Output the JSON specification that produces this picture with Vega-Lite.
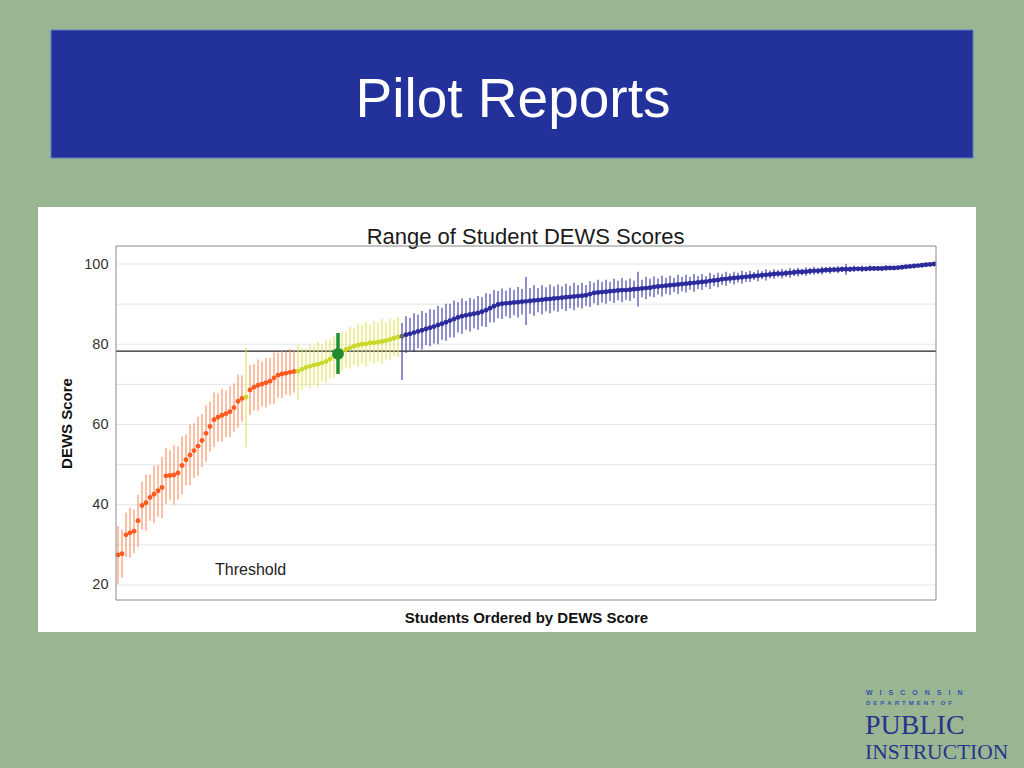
{
"$schema": "https://vega.github.io/schema/vega-lite/v6.json",
"width": 820,
"height": 354,
"autosize": "none",
"padding": {"left": 116, "top": 246, "right": 88, "bottom": 168},
"background": "#9ab591",
"config": {"view": {"stroke": null}, "font": "Liberation Sans", "axis": {"labelFont": "Liberation Sans", "titleFont": "Liberation Sans", "grid": false, "ticks": false, "domain": false}},
"data": {"values": [
{"i":1,"s":27.5,"lo":20.3,"hi":34.7,"g":"L"},
{"i":2,"s":27.8,"lo":21.8,"hi":33.8,"g":"L"},
{"i":3,"s":32.5,"lo":27.0,"hi":38.0,"g":"L"},
{"i":4,"s":33.0,"lo":26.8,"hi":39.2,"g":"L"},
{"i":5,"s":33.4,"lo":28.0,"hi":38.8,"g":"L"},
{"i":6,"s":36.0,"lo":29.5,"hi":42.5,"g":"L"},
{"i":7,"s":39.8,"lo":33.8,"hi":45.8,"g":"L"},
{"i":8,"s":40.5,"lo":33.5,"hi":47.5,"g":"L"},
{"i":9,"s":41.8,"lo":36.0,"hi":47.6,"g":"L"},
{"i":10,"s":42.6,"lo":35.4,"hi":49.8,"g":"L"},
{"i":11,"s":43.5,"lo":37.1,"hi":49.9,"g":"L"},
{"i":12,"s":44.3,"lo":36.7,"hi":51.9,"g":"L"},
{"i":13,"s":47.2,"lo":40.2,"hi":54.2,"g":"L"},
{"i":14,"s":47.3,"lo":41.1,"hi":53.5,"g":"L"},
{"i":15,"s":47.4,"lo":40.0,"hi":54.8,"g":"L"},
{"i":16,"s":47.9,"lo":41.3,"hi":54.5,"g":"L"},
{"i":17,"s":49.8,"lo":42.6,"hi":57.0,"g":"L"},
{"i":18,"s":51.2,"lo":44.8,"hi":57.6,"g":"L"},
{"i":19,"s":52.4,"lo":44.8,"hi":60.0,"g":"L"},
{"i":20,"s":53.5,"lo":46.7,"hi":60.3,"g":"L"},
{"i":21,"s":54.6,"lo":47.2,"hi":62.0,"g":"L"},
{"i":22,"s":56.0,"lo":49.4,"hi":62.6,"g":"L"},
{"i":23,"s":57.8,"lo":50.8,"hi":64.8,"g":"L"},
{"i":24,"s":59.5,"lo":53.3,"hi":65.7,"g":"L"},
{"i":25,"s":61.2,"lo":54.4,"hi":68.0,"g":"L"},
{"i":26,"s":61.8,"lo":55.8,"hi":67.8,"g":"L"},
{"i":27,"s":62.3,"lo":55.7,"hi":68.9,"g":"L"},
{"i":28,"s":62.7,"lo":56.9,"hi":68.5,"g":"L"},
{"i":29,"s":63.2,"lo":56.8,"hi":69.6,"g":"L"},
{"i":30,"s":64.2,"lo":58.2,"hi":70.2,"g":"L"},
{"i":31,"s":65.8,"lo":59.2,"hi":72.4,"g":"L"},
{"i":32,"s":66.5,"lo":60.7,"hi":72.3,"g":"L"},
{"i":33,"s":66.8,"lo":54.3,"hi":79.2,"g":"M"},
{"i":34,"s":68.6,"lo":62.4,"hi":74.8,"g":"L"},
{"i":35,"s":69.3,"lo":63.5,"hi":75.1,"g":"L"},
{"i":36,"s":69.8,"lo":63.4,"hi":76.2,"g":"L"},
{"i":37,"s":70.1,"lo":64.5,"hi":75.7,"g":"L"},
{"i":38,"s":70.4,"lo":64.2,"hi":76.6,"g":"L"},
{"i":39,"s":70.8,"lo":65.0,"hi":76.6,"g":"L"},
{"i":40,"s":71.6,"lo":65.2,"hi":78.0,"g":"L"},
{"i":41,"s":72.3,"lo":66.7,"hi":77.9,"g":"L"},
{"i":42,"s":72.6,"lo":66.6,"hi":78.6,"g":"L"},
{"i":43,"s":72.8,"lo":67.4,"hi":78.2,"g":"L"},
{"i":44,"s":73.0,"lo":67.2,"hi":78.8,"g":"L"},
{"i":45,"s":73.2,"lo":68.0,"hi":78.4,"g":"L"},
{"i":46,"s":73.3,"lo":66.1,"hi":79.8,"g":"M"},
{"i":47,"s":73.8,"lo":68.6,"hi":79.0,"g":"M"},
{"i":48,"s":74.2,"lo":69.6,"hi":78.8,"g":"M"},
{"i":49,"s":74.5,"lo":69.1,"hi":79.9,"g":"M"},
{"i":50,"s":74.8,"lo":70.0,"hi":79.6,"g":"M"},
{"i":51,"s":75.0,"lo":69.4,"hi":80.6,"g":"M"},
{"i":52,"s":75.3,"lo":70.7,"hi":79.9,"g":"M"},
{"i":53,"s":75.7,"lo":70.3,"hi":81.1,"g":"M"},
{"i":54,"s":76.3,"lo":71.5,"hi":81.1,"g":"M"},
{"i":55,"s":77.0,"lo":71.8,"hi":82.2,"g":"M"},
{"i":56,"s":77.6,"lo":72.6,"hi":82.8,"g":"S"},
{"i":57,"s":78.2,"lo":73.2,"hi":83.2,"g":"M"},
{"i":58,"s":78.7,"lo":74.3,"hi":83.1,"g":"M"},
{"i":59,"s":79.1,"lo":73.9,"hi":84.3,"g":"M"},
{"i":60,"s":79.5,"lo":74.9,"hi":84.1,"g":"M"},
{"i":61,"s":79.8,"lo":74.4,"hi":85.2,"g":"M"},
{"i":62,"s":80.0,"lo":75.2,"hi":84.8,"g":"M"},
{"i":63,"s":80.1,"lo":74.5,"hi":85.7,"g":"M"},
{"i":64,"s":80.3,"lo":75.7,"hi":84.9,"g":"M"},
{"i":65,"s":80.4,"lo":75.0,"hi":85.8,"g":"M"},
{"i":66,"s":80.5,"lo":75.7,"hi":85.3,"g":"M"},
{"i":67,"s":80.7,"lo":75.1,"hi":86.3,"g":"M"},
{"i":68,"s":80.9,"lo":76.3,"hi":85.5,"g":"M"},
{"i":69,"s":81.2,"lo":76.0,"hi":86.4,"g":"M"},
{"i":70,"s":81.5,"lo":77.1,"hi":85.9,"g":"M"},
{"i":71,"s":81.8,"lo":76.8,"hi":86.8,"g":"M"},
{"i":72,"s":82.0,"lo":71.1,"hi":85.3,"g":"T"},
{"i":73,"s":82.4,"lo":77.8,"hi":87.0,"g":"H"},
{"i":74,"s":82.6,"lo":78.6,"hi":86.6,"g":"H"},
{"i":75,"s":82.9,"lo":78.1,"hi":87.7,"g":"H"},
{"i":76,"s":83.2,"lo":79.0,"hi":87.4,"g":"H"},
{"i":77,"s":83.5,"lo":78.7,"hi":88.3,"g":"H"},
{"i":78,"s":83.8,"lo":79.8,"hi":87.8,"g":"H"},
{"i":79,"s":84.1,"lo":79.5,"hi":88.7,"g":"H"},
{"i":80,"s":84.4,"lo":80.2,"hi":88.6,"g":"H"},
{"i":81,"s":84.8,"lo":80.0,"hi":89.6,"g":"H"},
{"i":82,"s":85.1,"lo":81.1,"hi":89.1,"g":"H"},
{"i":83,"s":85.5,"lo":80.9,"hi":90.1,"g":"H"},
{"i":84,"s":85.9,"lo":81.7,"hi":90.1,"g":"H"},
{"i":85,"s":86.3,"lo":81.7,"hi":90.9,"g":"H"},
{"i":86,"s":86.7,"lo":82.9,"hi":90.5,"g":"H"},
{"i":87,"s":87.0,"lo":82.6,"hi":91.4,"g":"H"},
{"i":88,"s":87.2,"lo":83.6,"hi":90.8,"g":"H"},
{"i":89,"s":87.4,"lo":83.2,"hi":91.6,"g":"H"},
{"i":90,"s":87.6,"lo":84.0,"hi":91.2,"g":"H"},
{"i":91,"s":87.8,"lo":83.6,"hi":92.0,"g":"H"},
{"i":92,"s":88.1,"lo":84.5,"hi":91.7,"g":"H"},
{"i":93,"s":88.5,"lo":84.3,"hi":92.7,"g":"H"},
{"i":94,"s":89.0,"lo":85.4,"hi":92.6,"g":"H"},
{"i":95,"s":89.5,"lo":85.5,"hi":93.5,"g":"H"},
{"i":96,"s":89.9,"lo":86.5,"hi":93.3,"g":"H"},
{"i":97,"s":90.1,"lo":86.3,"hi":93.9,"g":"H"},
{"i":98,"s":90.2,"lo":87.0,"hi":93.4,"g":"H"},
{"i":99,"s":90.3,"lo":86.5,"hi":94.1,"g":"H"},
{"i":100,"s":90.4,"lo":87.2,"hi":93.6,"g":"H"},
{"i":101,"s":90.5,"lo":86.7,"hi":94.3,"g":"H"},
{"i":102,"s":90.6,"lo":87.4,"hi":93.8,"g":"H"},
{"i":103,"s":90.7,"lo":84.8,"hi":96.8,"g":"H"},
{"i":104,"s":90.8,"lo":87.6,"hi":94.0,"g":"H"},
{"i":105,"s":90.9,"lo":87.1,"hi":94.7,"g":"H"},
{"i":106,"s":91.0,"lo":88.0,"hi":94.0,"g":"H"},
{"i":107,"s":91.1,"lo":87.5,"hi":94.7,"g":"H"},
{"i":108,"s":91.2,"lo":88.2,"hi":94.2,"g":"H"},
{"i":109,"s":91.3,"lo":87.7,"hi":94.9,"g":"H"},
{"i":110,"s":91.4,"lo":88.4,"hi":94.4,"g":"H"},
{"i":111,"s":91.5,"lo":88.1,"hi":94.9,"g":"H"},
{"i":112,"s":91.6,"lo":88.8,"hi":94.4,"g":"H"},
{"i":113,"s":91.7,"lo":88.3,"hi":95.1,"g":"H"},
{"i":114,"s":91.8,"lo":89.0,"hi":94.6,"g":"H"},
{"i":115,"s":91.9,"lo":88.5,"hi":95.3,"g":"H"},
{"i":116,"s":92.0,"lo":89.2,"hi":94.8,"g":"H"},
{"i":117,"s":92.1,"lo":88.9,"hi":95.3,"g":"H"},
{"i":118,"s":92.2,"lo":89.6,"hi":94.8,"g":"H"},
{"i":119,"s":92.5,"lo":89.3,"hi":95.7,"g":"H"},
{"i":120,"s":92.8,"lo":90.2,"hi":95.4,"g":"H"},
{"i":121,"s":92.9,"lo":89.7,"hi":96.1,"g":"H"},
{"i":122,"s":93.0,"lo":90.4,"hi":95.6,"g":"H"},
{"i":123,"s":93.1,"lo":90.1,"hi":96.1,"g":"H"},
{"i":124,"s":93.2,"lo":90.8,"hi":95.6,"g":"H"},
{"i":125,"s":93.3,"lo":90.3,"hi":96.3,"g":"H"},
{"i":126,"s":93.4,"lo":91.0,"hi":95.8,"g":"H"},
{"i":127,"s":93.5,"lo":90.5,"hi":96.5,"g":"H"},
{"i":128,"s":93.5,"lo":91.1,"hi":95.9,"g":"H"},
{"i":129,"s":93.6,"lo":90.8,"hi":96.4,"g":"H"},
{"i":130,"s":93.7,"lo":91.5,"hi":95.9,"g":"H"},
{"i":131,"s":93.8,"lo":89.4,"hi":98.1,"g":"H"},
{"i":132,"s":93.9,"lo":91.7,"hi":96.1,"g":"H"},
{"i":133,"s":94.0,"lo":91.2,"hi":96.8,"g":"H"},
{"i":134,"s":94.1,"lo":91.9,"hi":96.3,"g":"H"},
{"i":135,"s":94.3,"lo":91.7,"hi":96.9,"g":"H"},
{"i":136,"s":94.4,"lo":92.4,"hi":96.4,"g":"H"},
{"i":137,"s":94.5,"lo":91.9,"hi":97.1,"g":"H"},
{"i":138,"s":94.6,"lo":92.6,"hi":96.6,"g":"H"},
{"i":139,"s":94.7,"lo":92.3,"hi":97.1,"g":"H"},
{"i":140,"s":94.8,"lo":93.0,"hi":96.6,"g":"H"},
{"i":141,"s":94.9,"lo":92.5,"hi":97.3,"g":"H"},
{"i":142,"s":95.0,"lo":93.2,"hi":96.8,"g":"H"},
{"i":143,"s":95.1,"lo":92.9,"hi":97.3,"g":"H"},
{"i":144,"s":95.2,"lo":93.6,"hi":96.8,"g":"H"},
{"i":145,"s":95.3,"lo":93.1,"hi":97.5,"g":"H"},
{"i":146,"s":95.4,"lo":93.8,"hi":97.0,"g":"H"},
{"i":147,"s":95.5,"lo":93.5,"hi":97.5,"g":"H"},
{"i":148,"s":95.6,"lo":94.2,"hi":97.0,"g":"H"},
{"i":149,"s":95.8,"lo":93.8,"hi":97.8,"g":"H"},
{"i":150,"s":95.9,"lo":94.5,"hi":97.3,"g":"H"},
{"i":151,"s":96.0,"lo":94.2,"hi":97.8,"g":"H"},
{"i":152,"s":96.2,"lo":94.8,"hi":97.6,"g":"H"},
{"i":153,"s":96.3,"lo":94.5,"hi":98.1,"g":"H"},
{"i":154,"s":96.4,"lo":95.2,"hi":97.6,"g":"H"},
{"i":155,"s":96.5,"lo":94.9,"hi":98.1,"g":"H"},
{"i":156,"s":96.6,"lo":95.4,"hi":97.8,"g":"H"},
{"i":157,"s":96.7,"lo":95.1,"hi":98.3,"g":"H"},
{"i":158,"s":96.8,"lo":95.6,"hi":98.0,"g":"H"},
{"i":159,"s":96.9,"lo":95.5,"hi":98.3,"g":"H"},
{"i":160,"s":97.0,"lo":96.0,"hi":98.0,"g":"H"},
{"i":161,"s":97.1,"lo":95.7,"hi":98.5,"g":"H"},
{"i":162,"s":97.2,"lo":96.2,"hi":98.2,"g":"H"},
{"i":163,"s":97.3,"lo":95.9,"hi":98.7,"g":"H"},
{"i":164,"s":97.4,"lo":96.4,"hi":98.4,"g":"H"},
{"i":165,"s":97.5,"lo":96.3,"hi":98.7,"g":"H"},
{"i":166,"s":97.6,"lo":96.7,"hi":98.5,"g":"H"},
{"i":167,"s":97.6,"lo":96.4,"hi":98.8,"g":"H"},
{"i":168,"s":97.7,"lo":96.8,"hi":98.6,"g":"H"},
{"i":169,"s":97.8,"lo":96.6,"hi":99.0,"g":"H"},
{"i":170,"s":97.9,"lo":97.0,"hi":98.8,"g":"H"},
{"i":171,"s":98.0,"lo":96.9,"hi":99.1,"g":"H"},
{"i":172,"s":98.0,"lo":97.2,"hi":98.8,"g":"H"},
{"i":173,"s":98.1,"lo":97.0,"hi":99.2,"g":"H"},
{"i":174,"s":98.2,"lo":97.4,"hi":99.0,"g":"H"},
{"i":175,"s":98.3,"lo":97.3,"hi":99.3,"g":"H"},
{"i":176,"s":98.3,"lo":97.5,"hi":99.1,"g":"H"},
{"i":177,"s":98.4,"lo":97.4,"hi":99.4,"g":"H"},
{"i":178,"s":98.5,"lo":97.8,"hi":99.2,"g":"H"},
{"i":179,"s":98.5,"lo":97.6,"hi":99.4,"g":"H"},
{"i":180,"s":98.6,"lo":97.9,"hi":99.3,"g":"H"},
{"i":181,"s":98.6,"lo":97.7,"hi":99.5,"g":"H"},
{"i":182,"s":98.7,"lo":98.0,"hi":99.4,"g":"H"},
{"i":183,"s":98.7,"lo":97.3,"hi":100.0,"g":"H"},
{"i":184,"s":98.7,"lo":98.0,"hi":99.4,"g":"H"},
{"i":185,"s":98.8,"lo":98.0,"hi":99.6,"g":"H"},
{"i":186,"s":98.8,"lo":98.2,"hi":99.4,"g":"H"},
{"i":187,"s":98.8,"lo":98.0,"hi":99.6,"g":"H"},
{"i":188,"s":98.8,"lo":98.2,"hi":99.4,"g":"H"},
{"i":189,"s":98.9,"lo":98.2,"hi":99.6,"g":"H"},
{"i":190,"s":98.9,"lo":98.4,"hi":99.4,"g":"H"},
{"i":191,"s":98.9,"lo":98.3,"hi":99.5,"g":"H"},
{"i":192,"s":98.9,"lo":98.4,"hi":99.4,"g":"H"},
{"i":193,"s":99.0,"lo":98.4,"hi":99.6,"g":"H"},
{"i":194,"s":99.0,"lo":98.5,"hi":99.5,"g":"H"},
{"i":195,"s":99.0,"lo":98.5,"hi":99.5,"g":"H"},
{"i":196,"s":99.1,"lo":98.7,"hi":99.5,"g":"H"},
{"i":197,"s":99.2,"lo":98.7,"hi":99.7,"g":"H"},
{"i":198,"s":99.3,"lo":98.9,"hi":99.7,"g":"H"},
{"i":199,"s":99.4,"lo":99.0,"hi":99.8,"g":"H"},
{"i":200,"s":99.5,"lo":99.1,"hi":99.9,"g":"H"},
{"i":201,"s":99.6,"lo":99.2,"hi":100.0,"g":"H"},
{"i":202,"s":99.7,"lo":99.4,"hi":100.0,"g":"H"},
{"i":203,"s":99.8,"lo":99.5,"hi":100.1,"g":"H"},
{"i":204,"s":99.9,"lo":99.6,"hi":100.2,"g":"H"},
{"i":205,"s":100.0,"lo":99.7,"hi":100.3,"g":"H"}
]},
"layer": [
{"data": {"values": [{}]}, "mark": {"type": "rect", "fill": "#22329a", "stroke": "#5b7cc9", "strokeWidth": 1},
 "encoding": {"x": {"datum": -15.75, "type": "quantitative", "scale": {"domain": [0.5, 205.5], "nice": false, "zero": false}}, "x2": {"datum": 214.75}, "y": {"datum": 158.32, "type": "quantitative", "scale": {"domain": [16.26, 104.49], "nice": false, "zero": false}}, "y2": {"datum": 126.42}}},
{"data": {"values": [{"t": "Pilot Reports"}]}, "mark": {"type": "text", "font": "Liberation Sans", "fontSize": 55, "color": "white", "align": "center", "baseline": "alphabetic"},
 "encoding": {"x": {"datum": 99.75, "type": "quantitative"}, "y": {"datum": 136.71, "type": "quantitative"}, "text": {"field": "t"}}},
{"data": {"values": [{}]}, "mark": {"type": "rect", "fill": "white"},
 "encoding": {"x": {"datum": -19, "type": "quantitative"}, "x2": {"datum": 215.5}, "y": {"datum": 114.21, "type": "quantitative"}, "y2": {"datum": 8.29}}},
{"data": {"values": [{"t": "Range of Student DEWS Scores"}]}, "mark": {"type": "text", "font": "Liberation Sans", "fontSize": 22, "color": "#1a1a1a", "align": "center", "baseline": "alphabetic"},
 "encoding": {"x": {"datum": 102.9, "type": "quantitative"}, "y": {"datum": 104.98, "type": "quantitative"}, "text": {"field": "t"}}},
{"data": {"values": [{"t": "W\u2003I\u2003S\u2003C\u2003O\u2003N\u2003S\u2003I\u2003N"}]}, "mark": {"type": "text", "font": "Liberation Sans", "fontWeight": "bold", "fontSize": 7, "color": "#3553b0", "align": "left", "baseline": "alphabetic"},
 "encoding": {"x": {"datum": 188.0, "type": "quantitative"}, "y": {"datum": -7.3, "type": "quantitative"}, "text": {"field": "t"}}},
{"data": {"values": [{"t": "D\u2002E\u2002P\u2002A\u2002R\u2002T\u2002M\u2002E\u2002N\u2002T\u2003O\u2002F"}]}, "mark": {"type": "text", "font": "Liberation Sans", "fontWeight": "bold", "fontSize": 6, "color": "#3553b0", "align": "left", "baseline": "alphabetic"},
 "encoding": {"x": {"datum": 188.0, "type": "quantitative"}, "y": {"datum": -9.9, "type": "quantitative"}, "text": {"field": "t"}}},
{"data": {"values": [{"t": "PUBLIC"}]}, "mark": {"type": "text", "font": "Liberation Serif", "fontSize": 28, "color": "#27348b", "align": "left", "baseline": "alphabetic"},
 "encoding": {"x": {"datum": 187.75, "type": "quantitative"}, "y": {"datum": -17.13, "type": "quantitative"}, "text": {"field": "t"}}},
{"data": {"values": [{"t": "INSTRUCTION"}]}, "mark": {"type": "text", "font": "Liberation Serif", "fontSize": 21.5, "color": "#27348b", "align": "left", "baseline": "alphabetic"},
 "encoding": {"x": {"datum": 187.75, "type": "quantitative"}, "y": {"datum": -23.36, "type": "quantitative"}, "text": {"field": "t"}}},
{"data": {"values": [{"v": 20}, {"v": 30}, {"v": 40}, {"v": 50}, {"v": 60}, {"v": 70}, {"v": 80}, {"v": 90}, {"v": 100}]},
 "mark": {"type": "rule", "color": "#e6e6e6", "strokeWidth": 1},
 "encoding": {"y": {"field": "v", "type": "quantitative"}}},
{"data": {"values": [{}]}, "mark": {"type": "rule", "color": "#222222", "strokeWidth": 1.2},
 "encoding": {"y": {"datum": 78.3, "type": "quantitative"}}},
{"transform": [{"filter": "datum.g !== 'S'"}],
 "mark": {"type": "rule", "strokeWidth": 1.1},
 "encoding": {
  "x": {"field": "i", "type": "quantitative", "axis": {"title": "Students Ordered by DEWS Score", "labels": false, "ticks": false, "domain": false, "grid": false, "titleFontSize": 15, "titleFontWeight": "bold", "titleColor": "#111111", "titlePadding": 10, "zindex": 1}},
  "y": {"field": "lo", "type": "quantitative", "axis": {"title": "DEWS Score", "values": [20, 40, 60, 80, 100], "grid": false, "ticks": false, "tickSize": 0, "domain": false, "labelFontSize": 14.5, "labelColor": "#333333", "labelPadding": 8, "titleFontSize": 15, "titleFontWeight": "bold", "titleColor": "#111111", "titlePadding": 9, "zindex": 1}},
  "y2": {"field": "hi"},
  "stroke": {"field": "g", "type": "nominal", "scale": {"domain": ["L", "M", "S", "T", "H"], "range": ["#f98c5e", "#e0e452", "#1f8f2f", "#33338f", "#3535a2"]}, "legend": null}}},
{"transform": [{"filter": "datum.g !== 'S'"}],
 "mark": {"type": "circle", "size": 24, "opacity": 1},
 "encoding": {
  "x": {"field": "i", "type": "quantitative"},
  "y": {"field": "s", "type": "quantitative"},
  "fill": {"field": "g", "type": "nominal", "scale": {"domain": ["L", "M", "S", "T", "H"], "range": ["#ff5a1f", "#ccd82a", "#1e8c2e", "#666666", "#2b2b9c"]}, "legend": null}}},
{"transform": [{"filter": "datum.g === 'S'"}],
 "mark": {"type": "rule", "strokeWidth": 3.5, "color": "#1f8f2f"},
 "encoding": {"x": {"field": "i", "type": "quantitative"}, "y": {"field": "lo", "type": "quantitative"}, "y2": {"field": "hi"}}},
{"transform": [{"filter": "datum.g === 'S'"}],
 "mark": {"type": "circle", "size": 140, "color": "#1e8c2e", "opacity": 1},
 "encoding": {"x": {"field": "i", "type": "quantitative"}, "y": {"field": "s", "type": "quantitative"}}},
{"data": {"values": [{"t": "Threshold"}]}, "mark": {"type": "text", "font": "Liberation Sans", "fontSize": 16, "color": "#222222", "align": "left", "baseline": "alphabetic"},
 "encoding": {"x": {"datum": 25.25, "type": "quantitative"}, "y": {"datum": 22.49, "type": "quantitative"}, "text": {"field": "t"}}},
{"data": {"values": [{}]}, "mark": {"type": "rect", "fill": "white", "fillOpacity": 0, "stroke": "#8a8a8a", "strokeWidth": 1},
 "encoding": {"x": {"datum": 0.5, "type": "quantitative"}, "x2": {"datum": 205.5}, "y": {"datum": 16.26, "type": "quantitative"}, "y2": {"datum": 104.49}}}
]
}
